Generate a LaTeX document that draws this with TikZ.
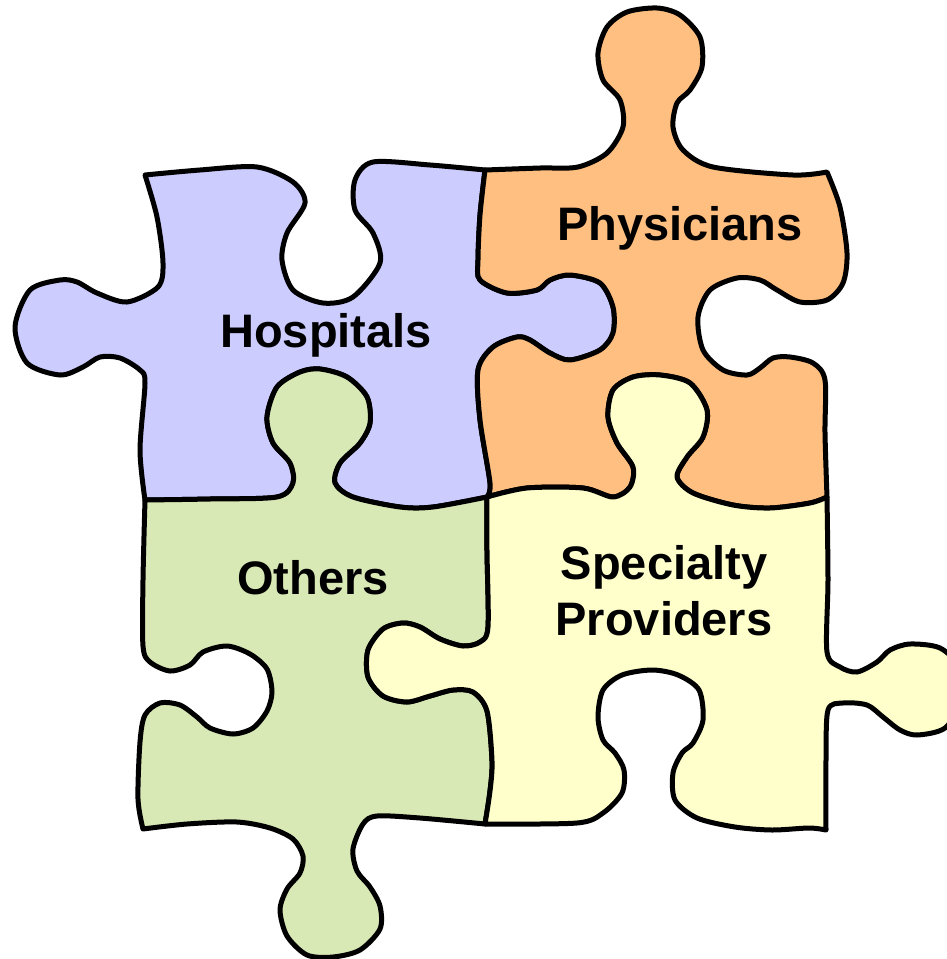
\documentclass[tikz,border=0pt]{standalone}
\usepackage{fontspec}
\setmainfont{Liberation Sans}
\definecolor{hospcol}{HTML}{CCCCFF}
\definecolor{physcol}{HTML}{FFBF80}
\definecolor{othcol}{HTML}{D9E9B6}
\definecolor{speccol}{HTML}{FFFFCC}
\tikzset{
  piece/.style={draw=black, line width=5pt, line join=round},
  label/.style={font=\fontsize{47}{55}\selectfont\bfseries, anchor=base, inner sep=0pt}
}
\begin{document}
\begin{tikzpicture}[x=1pt,y=-1pt]
\useasboundingbox (0,0) rectangle (947,959);
% Hospitals
\path[piece, fill=hospcol]
 plot[smooth] coordinates {(145,175) (200,170) (257,167) (293,182) (305,203) (287,233) (282,260) (293,290) (323,303) (353,297) (380,263) (373,233) (355,210) (355,180) (373,162) (430,165) (485,170)}
 -- plot[smooth] coordinates {(485,170) (480,215) (478,260) (480,280) (507,293) (537,290) (550,280) (570,275) (600,283) (613,307) (613,333) (600,350) (570,360) (550,353) (530,340) (517,337) (493,347) (478,370) (480,420) (490,483) (487,497)}
 -- plot[smooth] coordinates {(487,497) (433,507) (400,507) (353,497) (335,483) (340,463) (360,443) (370,423) (367,397) (347,377) (320,369) (300,372) (277,387) (267,417) (273,443) (290,463) (293,483) (277,497) (210,499) (145,500)}
 -- plot[smooth] coordinates {(145,500) (140,450) (145,383) (140,370) (120,358) (100,357) (83,367) (60,375) (27,363) (15,327) (30,290) (60,280) (77,282) (97,293) (127,302) (158,287) (163,263) (157,217) (145,175)}
 -- cycle;
% Physicians
\path[piece, fill=physcol]
 plot[smooth] coordinates {(485,170) (540,168) (578,167) (607,153) (623,127) (620,100) (603,80) (598,53) (607,27) (627,12) (657,8) (680,15) (700,37) (702,67) (690,90) (677,103) (673,127) (683,150) (713,167) (793,175) (827,172)}
 -- plot[smooth] coordinates {(827,172) (840,207) (847,253) (843,283) (827,300) (800,302) (777,290) (760,280) (737,278) (710,290) (698,317) (703,350) (723,370) (747,375) (760,368) (773,358) (790,357) (813,363) (825,380) (825,433) (827,497)}
 -- plot[smooth] coordinates {(827,497) (810,503) (770,508) (733,505) (693,493) (677,477) (687,457) (703,437) (707,410) (690,383) (660,375) (633,377) (613,390) (608,417) (617,443) (633,467) (630,487) (613,497) (583,488) (527,488) (487,497)}
 -- plot[smooth] coordinates {(487,497) (490,483) (480,420) (478,370) (493,347) (517,337) (530,340) (550,353) (570,360) (600,350) (613,333) (613,307) (600,283) (570,275) (550,280) (537,290) (507,293) (480,280) (478,260) (480,215) (485,170)}
 -- cycle;
% Others
\path[piece, fill=othcol]
 plot[smooth] coordinates {(145,500) (210,499) (277,497) (293,483) (290,463) (273,443) (267,417) (277,387) (300,372) (320,369) (347,377) (367,397) (370,423) (360,443) (340,463) (335,483) (353,497) (400,507) (433,507) (487,497)}
 -- plot[smooth] coordinates {(487,497) (487,551) (488,627) (480,642) (463,646) (440,639) (420,627) (403,623) (383,629) (368,650) (368,677) (383,696) (407,702) (430,696) (453,690) (473,692) (487,711) (492,761) (490,791) (485,824)}
 -- plot[smooth] coordinates {(485,824) (420,818) (377,816) (363,824) (353,849) (357,871) (370,887) (380,906) (380,929) (360,950) (333,957) (307,955) (287,936) (280,910) (287,889) (300,873) (303,856) (293,839) (270,828) (237,822) (187,824) (143,829)}
 -- plot[smooth] coordinates {(143,829) (138,799) (140,742) (145,715) (160,703) (180,705) (197,717) (210,728) (233,734) (253,728) (267,711) (272,692) (267,669) (250,654) (227,646) (203,652) (190,665) (170,671) (150,662) (143,646) (143,580) (145,500)}
 -- cycle;
% Specialty Providers
\path[piece, fill=speccol]
 plot[smooth] coordinates {(487,497) (527,488) (583,488) (613,497) (630,487) (633,467) (617,443) (608,417) (613,390) (633,377) (660,375) (690,383) (707,410) (703,437) (687,457) (677,477) (693,493) (733,505) (770,508) (810,503) (827,497)}
 -- plot[smooth] coordinates {(827,497) (828,580) (827,652) (840,667) (857,672) (877,662) (890,650) (910,644) (940,648) (960,668) (962,700) (945,728) (917,735) (900,730) (883,717) (867,705) (843,703) (828,710) (826,760) (826,830)}
 -- plot[smooth] coordinates {(826,830) (809,828) (772,830) (735,827) (697,818) (675,800) (673,773) (682,753) (693,743) (703,720) (699,690) (678,675) (652,670) (622,675) (603,690) (598,717) (603,740) (615,753) (624,770) (622,793) (603,813) (577,823) (485,824)}
 -- plot[smooth] coordinates {(485,824) (490,791) (492,761) (487,711) (473,692) (453,690) (430,696) (407,702) (383,696) (368,677) (368,650) (383,629) (403,623) (420,627) (440,639) (463,646) (480,642) (488,627) (487,551) (487,497)}
 -- cycle;
% Labels
\node[label] (hosp) at (326,347) {Hospitals};
\node[label] (phys) at (680,240) {Physicians};
\node[label] (oth) at (313,594) {Others};
\node[label] (spec1) at (664,579) {Specialty};
\node[label] (spec2) at (664,635) {Providers};
\end{tikzpicture}
\end{document}
